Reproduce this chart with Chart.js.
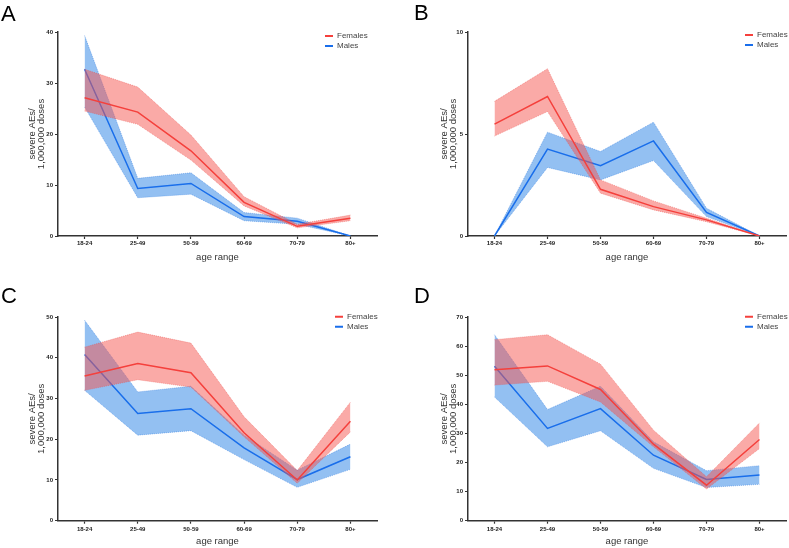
<!DOCTYPE html>
<html>
<head>
<meta charset="utf-8">
<script src="https://cdn.jsdelivr.net/npm/chart.js@4.4.1/dist/chart.umd.min.js"></script>
<style>
  html, body { margin: 0; padding: 0; background: #ffffff; }
  #wrap { position: relative; width: 789px; height: 548px; overflow: hidden; background: #fff; }
  canvas { position: absolute; }
  .letter { position: absolute; font-family: "Liberation Sans", Arial, sans-serif; font-size: 22px; line-height: 22px; color: #000; }
</style>
</head>
<body>
<div id="wrap">
  <canvas id="cA" width="395" height="270" style="left:0px;top:0px;width:395px;height:270px"></canvas>
  <canvas id="cB" width="379" height="270" style="left:410px;top:0px;width:379px;height:270px"></canvas>
  <canvas id="cC" width="395" height="278" style="left:0px;top:270px;width:395px;height:278px"></canvas>
  <canvas id="cD" width="379" height="278" style="left:410px;top:270px;width:379px;height:278px"></canvas>
  <div class="letter" style="left:1px;top:3px">A</div>
  <div class="letter" style="left:414px;top:2px">B</div>
  <div class="letter" style="left:1px;top:285px">C</div>
  <div class="letter" style="left:414px;top:285px">D</div>
</div>
<script>
// ---- data ----
const categories = ['18-24', '25-49', '50-59', '60-69', '70-79', '80+'];
const seriesNames = ['Females', 'Males'];
const xTitle = 'age range';
const yTitle = ['severe AEs/', '1,000,000 doses'];

// Panel A
const femA    = [27.1, 24.3, 16.7, 6.6, 1.9, 3.5];
const femAHi  = [32.7, 29.2, 19.8, 7.7, 2.3, 4.1];
const femALo  = [24.5, 21.9, 14.9, 5.9, 1.6, 3.0];
const maleA   = [32.7, 9.3, 10.3, 3.8, 2.9, 0];
const maleAHi = [39.3, 11.3, 12.4, 4.6, 3.5, 0];
const maleALo = [25.3, 7.5, 8.2, 3.0, 2.3, 0];
const yTicksA = [0, 10, 20, 30, 40];

// Panel B
const femB    = [5.48, 6.84, 2.29, 1.44, 0.79, 0];
const femBHi  = [6.6, 8.2, 2.75, 1.72, 0.87, 0];
const femBLo  = [4.9, 6.1, 2.1, 1.28, 0.7, 0];
const maleB   = [0, 4.26, 3.45, 4.66, 1.16, 0];
const maleBHi = [0, 5.09, 4.14, 5.58, 1.36, 0];
const maleBLo = [0, 3.36, 2.75, 3.7, 0.95, 0];
const yTicksB = [0, 5, 10];

// Panel C
const femC    = [35.5, 38.6, 36.3, 21.6, 10.0, 24.4];
const femCHi  = [42.6, 46.3, 43.6, 25.5, 12.3, 29.1];
const femCLo  = [32.0, 34.6, 32.8, 20.6, 9.2, 21.8];
const maleC   = [40.8, 26.3, 27.5, 17.9, 10.1, 15.7];
const maleCHi = [49.2, 31.6, 33.0, 21.0, 12.4, 18.8];
const maleCLo = [32.0, 21.0, 22.1, 15.0, 8.2, 12.6];
const yTicksC = [0, 10, 20, 30, 40, 50];

// Panel D
const femD    = [51.9, 53.2, 45.1, 26.3, 12.2, 27.9];
const femDHi  = [62.2, 63.9, 53.8, 31.1, 15.1, 33.6];
const femDLo  = [46.6, 47.9, 40.8, 25.4, 10.9, 24.8];
const maleD   = [53.1, 31.7, 38.5, 22.5, 14.2, 15.7];
const maleDHi = [63.9, 38.2, 46.2, 27.1, 17.2, 18.9];
const maleDLo = [42.5, 25.4, 30.9, 18.0, 11.4, 12.5];
const yTicksD = [0, 10, 20, 30, 40, 50, 60, 70];

// ---- styles ----
const RED = 'rgb(245,64,60)';
const RED_BAND = 'rgba(245,85,80,0.5)';
const RED_EDGE = 'rgba(235,70,65,0.55)';
const BLUE = 'rgb(25,110,235)';
const BLUE_BAND = 'rgba(40,130,230,0.5)';
const BLUE_EDGE = 'rgba(30,110,220,0.55)';
const FONT = '"Liberation Sans", Arial, Helvetica, sans-serif';

const legendPlace = {
  id: 'legendPlace',
  afterLayout(chart, args, opts) {
    const lg = chart.legend;
    if (!lg) return;
    lg.left = opts.x; lg.top = opts.y;
    lg.width = 90; lg.height = 60;
    lg.right = opts.x + 90; lg.bottom = opts.y + 60;
  }
};

function bandSets(hi, lo, color, edge, order) {
  return [
    { label: '_hi', isBand: true, data: hi, fill: '+1', backgroundColor: color,
      borderColor: edge, borderWidth: 0.8, borderDash: [1, 1], pointRadius: 0, tension: 0, order: order },
    { label: '_lo', isBand: true, data: lo, fill: false, backgroundColor: color,
      borderColor: edge, borderWidth: 0.8, borderDash: [1, 1], pointRadius: 0, tension: 0, order: order }
  ];
}

function makeChart(id, fem, femHi, femLo, male, maleHi, maleLo, yTicks, g) {
  const yMax = yTicks[yTicks.length - 1];
  const step = yTicks[1] - yTicks[0];
  const datasets = [
    { label: seriesNames[0], data: fem, borderColor: RED, backgroundColor: RED, borderWidth: 1.5,
      pointRadius: 0, fill: false, tension: 0, order: 0 },
    ...bandSets(femHi, femLo, RED_BAND, RED_EDGE, 1),
    { label: seriesNames[1], data: male, borderColor: BLUE, backgroundColor: BLUE, borderWidth: 1.5,
      pointRadius: 0, fill: false, tension: 0, order: 2 },
    ...bandSets(maleHi, maleLo, BLUE_BAND, BLUE_EDGE, 3)
  ];
  return new Chart(document.getElementById(id), {
    type: 'line',
    data: { labels: categories, datasets: datasets },
    plugins: [legendPlace],
    options: {
      responsive: false,
      animation: false,
      devicePixelRatio: 1,
      layout: { padding: { top: g.padTop, right: g.padRight, left: 0, bottom: 0 } },
      plugins: {
        tooltip: { enabled: false },
        title: { display: false },
        legendPlace: { x: g.legX, y: g.legY },
        legend: {
          display: true,
          position: 'chartArea',
          align: 'start',
          labels: {
            boxWidth: 8, boxHeight: 2, padding: 2,
            color: '#444',
            font: { family: FONT, size: 8 },
            filter: (item, data) => !data.datasets[item.datasetIndex].isBand,
            generateLabels: (chart) => {
              const items = Chart.defaults.plugins.legend.labels.generateLabels(chart);
              items.forEach(it => {
                const ds = chart.data.datasets[it.datasetIndex];
                it.fillStyle = ds.borderColor; it.strokeStyle = ds.borderColor; it.lineWidth = 0;
              });
              return items;
            }
          }
        }
      },
      scales: {
        x: {
          type: 'category',
          offset: true,
          afterFit: (s) => { s.height = g.xH; },
          grid: { display: true, offset: false, drawOnChartArea: false, drawTicks: true, tickLength: 3, tickWidth: 1.2, tickColor: '#333' },
          border: { display: true, color: '#333', width: 1.5 },
          ticks: { color: '#222', font: { family: FONT, size: 6, weight: 'bold' }, padding: g.xTickPad, maxRotation: 0, autoSkip: false },
          title: { display: true, text: xTitle, color: '#333', font: { family: FONT, size: 9.5, lineHeight: 1 }, padding: { top: 0, bottom: g.xTitlePad } }
        },
        y: {
          min: 0, max: yMax,
          afterFit: (s) => { s.width = 58; },
          afterBuildTicks: (s) => { s.ticks = yTicks.map(v => ({ value: v })); },
          grid: { display: true, drawOnChartArea: false, drawTicks: true, tickLength: 3, tickWidth: 1.2, tickColor: '#333' },
          border: { display: true, color: '#333', width: 1.5 },
          ticks: { stepSize: step, color: '#222', font: { family: FONT, size: 6, weight: 'bold' }, padding: 2 },
          title: { display: true, text: yTitle, color: '#333', font: { family: FONT, size: 9.5, lineHeight: 0.95 }, padding: { top: g.yTitlePad, bottom: 0 } }
        }
      }
    }
  });
}

makeChart('cA', femA, femAHi, femALo, maleA, maleAHi, maleALo, yTicksA,
  { padTop: 32, padRight: 18, xH: 34, xTickPad: 1, xTitlePad: 7.5, yTitlePad: 27.5, legX: 323, legY: 30 });
makeChart('cB', femB, femBHi, femBLo, maleB, maleBHi, maleBLo, yTicksB,
  { padTop: 32, padRight: 3, xH: 34, xTickPad: 1, xTitlePad: 7.5, yTitlePad: 30, legX: 333, legY: 29 });
makeChart('cC', femC, femCHi, femCLo, maleC, maleCHi, maleCLo, yTicksC,
  { padTop: 47, padRight: 18, xH: 27.3, xTickPad: 2.5, xTitlePad: 1.5, yTitlePad: 27.5, legX: 333, legY: 40.7 });
makeChart('cD', femD, femDHi, femDLo, maleD, maleDHi, maleDLo, yTicksD,
  { padTop: 47, padRight: 3, xH: 27.3, xTickPad: 2.5, xTitlePad: 1.5, yTitlePad: 30, legX: 333, legY: 40.7 });
</script>
</body>
</html>
